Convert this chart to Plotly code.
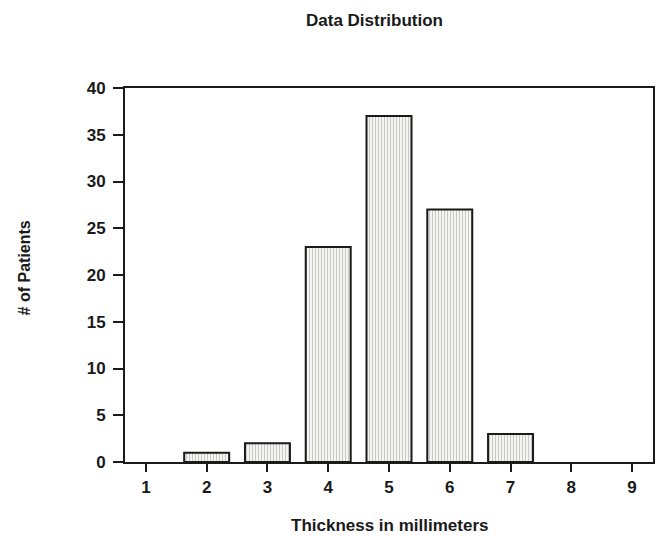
import plotly.graph_objects as go

categories = [1, 2, 3, 4, 5, 6, 7, 8, 9]
patients = [0, 1, 2, 23, 37, 27, 3, 0, 0]
y_ticks = [0, 5, 10, 15, 20, 25, 30, 35, 40]

FONT = "Liberation Sans, Arial, sans-serif"
INK = "#1a1a1a"

W, H = 660, 536
L, R, T, B = 125, 5, 88, 74
PW, PH = W - L - R, H - T - B

fig = go.Figure()
fig.add_trace(go.Bar(
    x=categories,
    y=patients,
    width=0.74,
    marker=dict(
        color="#f4f4f2",
        line=dict(color=INK, width=[2 if v > 0 else 0 for v in patients]),
        pattern=dict(shape="|", fgcolor="#9a9a9a", bgcolor="#f4f4f2", size=3, solidity=0.32),
    ),
    showlegend=False,
))

fig.update_layout(
    width=W, height=H,
    margin=dict(l=L, r=R, t=T, b=B),
    paper_bgcolor="white", plot_bgcolor="white",
    font=dict(family=FONT, size=17, color=INK),
    xaxis=dict(
        range=[0.656, 9.344],
        tickmode="array", tickvals=categories, ticktext=[f"<b>{c}</b>" for c in categories],
        showgrid=False, zeroline=False,
        showline=True, linecolor=INK, linewidth=2, mirror=True,
        ticks="outside", ticklen=8, tickwidth=2, tickcolor=INK,
        ticklabelstandoff=1,
        tickfont=dict(family=FONT, size=17, color=INK),
    ),
    yaxis=dict(
        range=[0, 40],
        tickmode="array", tickvals=y_ticks, ticktext=[f"<b>{t}</b>" for t in y_ticks],
        showgrid=False, zeroline=False,
        showline=True, linecolor=INK, linewidth=2, mirror=True,
        ticks="outside", ticklen=10, tickwidth=2, tickcolor=INK,
        ticklabelstandoff=4,
        tickfont=dict(family=FONT, size=17, color=INK),
    ),
    annotations=[
        dict(text="<b>Data Distribution</b>", xref="paper", yref="paper",
             x=(375 - L) / PW, y=(H - 21 - B) / PH, showarrow=False,
             font=dict(family=FONT, size=17, color=INK), xanchor="center", yanchor="middle"),
        dict(text="<b>Thickness in millimeters</b>", xref="paper", yref="paper",
             x=(391 - L) / PW, y=(H - 525 - B) / PH, showarrow=False,
             font=dict(family=FONT, size=17, color=INK), xanchor="center", yanchor="middle"),
        dict(text="<b># of Patients</b>", xref="paper", yref="paper",
             x=(24 - L) / PW, y=(H - 268 - B) / PH, showarrow=False, textangle=-90,
             font=dict(family=FONT, size=16, color=INK), xanchor="center", yanchor="middle"),
    ],
)

fig.write_html("out.html", config={"displayModeBar": False})

with open("out.html", "r", encoding="utf-8") as f:
    html = f.read()
html = html.replace("<head>", "<head><style>html,body{margin:0;padding:0;overflow:hidden;}</style>", 1)
with open("out.html", "w", encoding="utf-8") as f:
    f.write(html)
